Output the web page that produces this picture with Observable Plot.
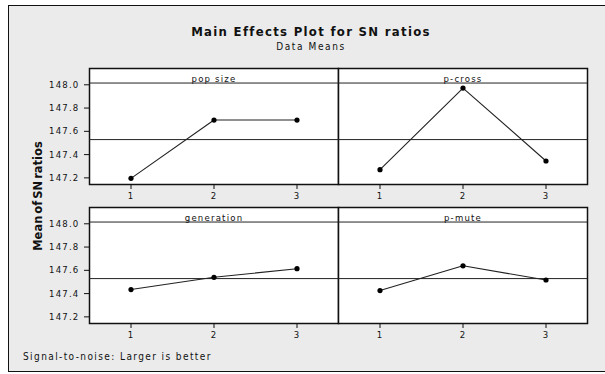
<!DOCTYPE html>
<html>
<head>
<meta charset="utf-8">
<script src="https://cdn.jsdelivr.net/npm/d3@7"></script>
<script src="https://cdn.jsdelivr.net/npm/@observablehq/plot@0.6"></script>
<style>
  html, body { margin: 0; padding: 0; background: #ffffff; width: 605px; height: 374px; overflow: hidden; }
  #frame { position: absolute; left: 8px; top: 5px; width: 620px; height: 365px; background: #ebebeb; border: 1.5px solid #111; }
  .txt { position: absolute; white-space: nowrap; color: #111; font-family: "Liberation Sans Narrow", "DejaVu Sans Condensed", "Liberation Sans", sans-serif; }
  #title { left: 311px; top: 24px; transform: translateX(-50%); font-size: 13px; font-weight: bold; letter-spacing: 1.3px; }
  #subtitle { left: 311px; top: 41px; transform: translateX(-50%); font-size: 10px; letter-spacing: 1.6px; }
  #caption { left: 23px; top: 351px; font-size: 10px; letter-spacing: 1.4px; }
  #ylabel { left: 38px; top: 196px; transform: translate(-50%, -50%) rotate(-90deg); font-family: "DejaVu Sans", sans-serif; font-size: 11.5px; font-weight: bold; word-spacing: -2px; }
  #chart { position: absolute; left: 0px; top: 60px; }
</style>
</head>
<body>
<div id="frame"></div>
<div class="txt" id="title">Main Effects Plot for SN ratios</div>
<div class="txt" id="subtitle">Data Means</div>
<div id="chart"></div>
<div class="txt" id="ylabel">Mean of SN ratios</div>
<div class="txt" id="caption">Signal-to-noise: Larger is better</div>
<script>
const panels = ["pop size", "p-cross", "generation", "p-mute"];
const levels = [1, 2, 3];
const popSize = [147.196, 147.697, 147.697];
const pCross = [147.270, 147.972, 147.345];
const generation = [147.435, 147.540, 147.614];
const pMute = [147.426, 147.639, 147.517];
const yTicks = [147.2, 147.4, 147.6, 147.8, 148.0];
const grandMean = 147.529;

const series = [popSize, pCross, generation, pMute];
const rows = panels.flatMap((p, i) => levels.map((l, j) => ({
  panel: p, col: i % 2, row: Math.floor(i / 2), level: l, value: series[i][j]
})));

const chart = Plot.plot({
  width: 605,
  height: 290,
  marginTop: 8,
  marginBottom: 26,
  marginLeft: 89,
  marginRight: 18,
  style: { fontFamily: '"Liberation Sans Narrow", "DejaVu Sans Condensed", "Liberation Sans", sans-serif', fontSize: "9.5px", letterSpacing: "1.2px", background: "transparent", color: "#111" },
  facet: { data: rows, x: "col", y: "row", marginTop: 0, marginRight: 0, marginBottom: 0, marginLeft: 0 },
  fx: { padding: 0, axis: null },
  fy: { paddingInner: 0.162, paddingOuter: 0, axis: null },
  x: { domain: [0.5, 3.5] },
  y: { domain: [147.143, 148.14] },
  marks: [
    Plot.frame({ fill: "white", stroke: "#111", strokeWidth: 1.5 }),
    Plot.ruleY([148.015], { stroke: "#222", strokeWidth: 1 }),
    Plot.ruleY([grandMean], { stroke: "#222", strokeWidth: 1 }),
    Plot.text(rows, Plot.selectFirst({ text: "panel", frameAnchor: "top", dy: 7, fill: "#111" })),
    Plot.line(rows, { x: "level", y: "value", stroke: "#222", strokeWidth: 1.1 }),
    Plot.dot(rows, { x: "level", y: "value", r: 2.6, fill: "#000", stroke: null }),
    Plot.axisX(levels, { facetAnchor: null, tickSize: 5, tickPadding: 3, label: null, stroke: "#111" }),
    Plot.axisY(yTicks, { tickSize: 5, tickPadding: 5, tickFormat: d3.format(".1f"), label: null, stroke: "#111" })
  ]
});
document.getElementById("chart").appendChild(chart);
</script>
</body>
</html>
